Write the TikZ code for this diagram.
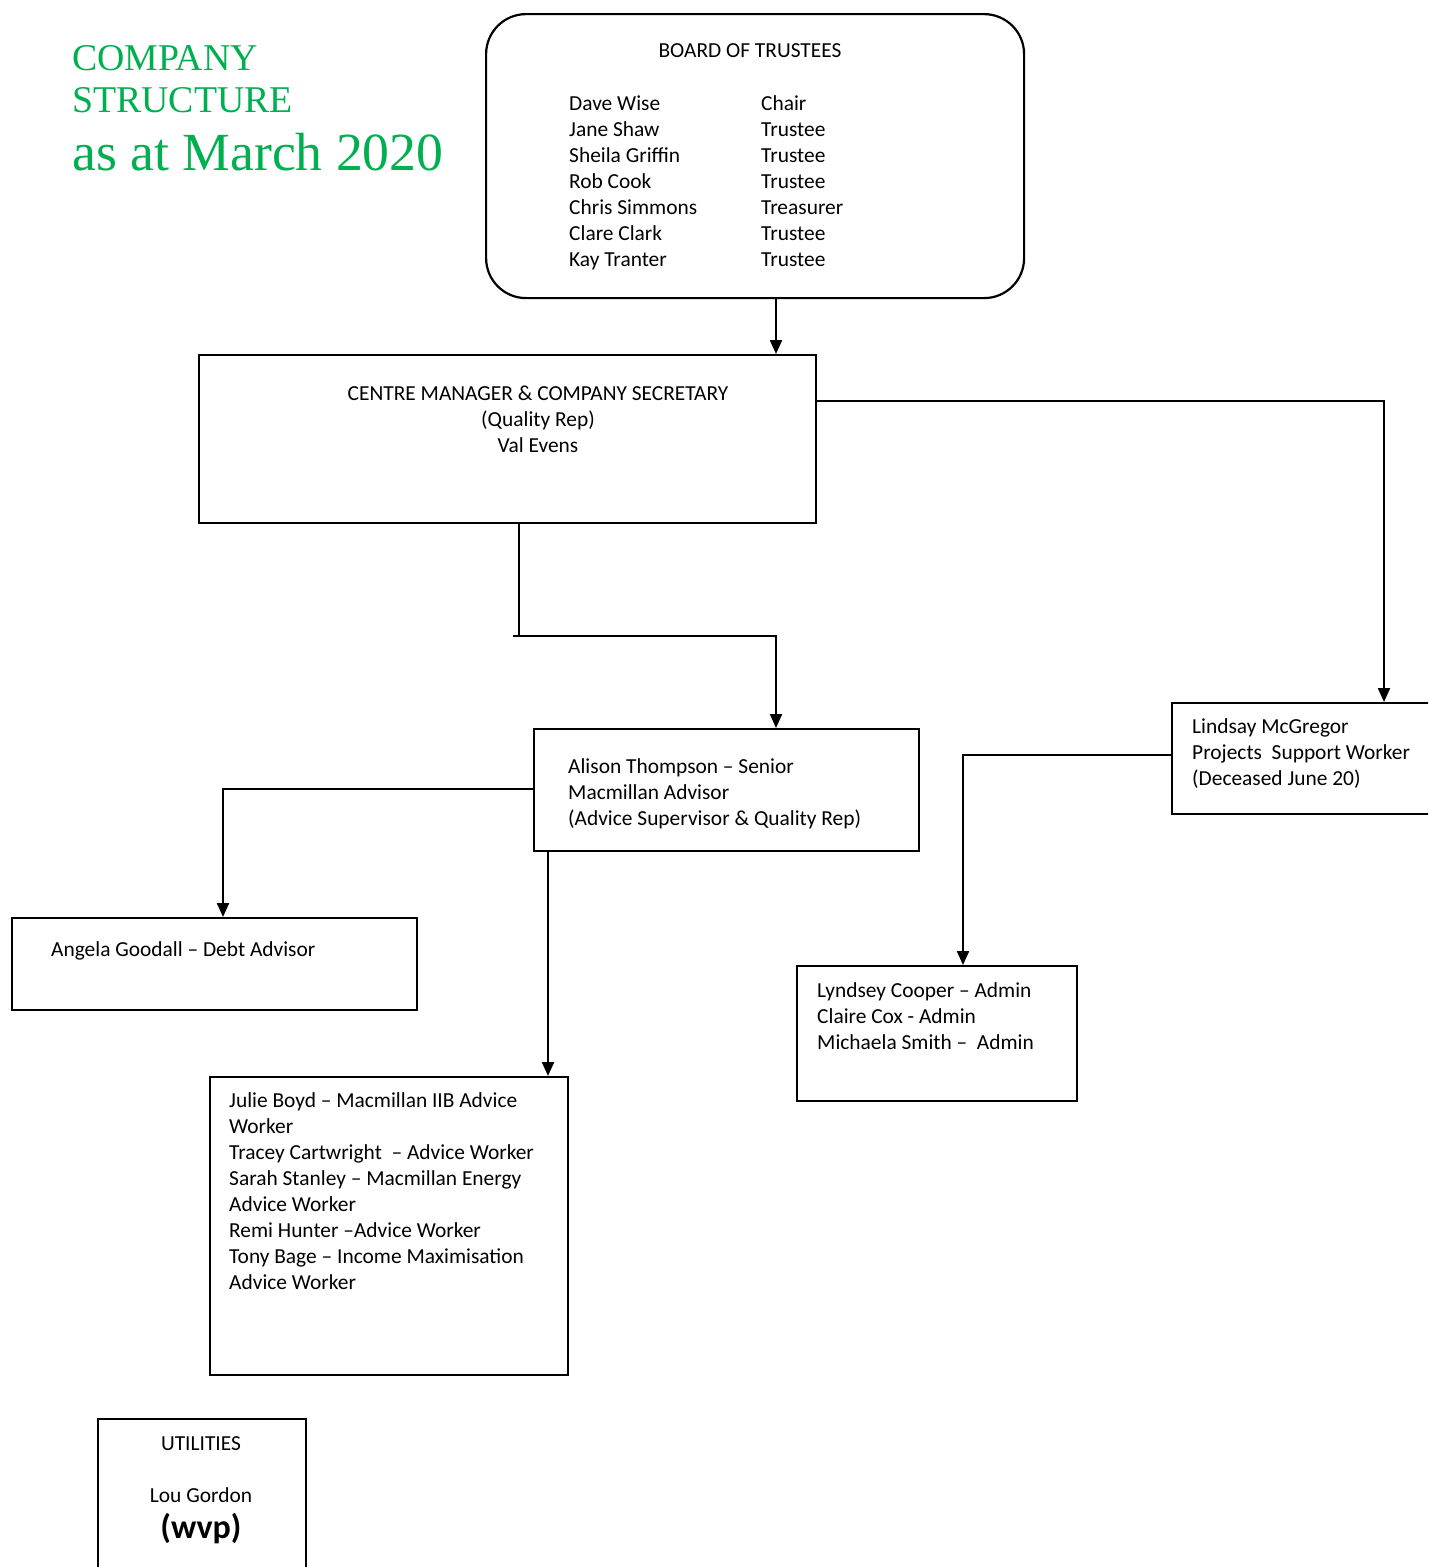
\documentclass[tikz,border=0pt]{standalone}
\usepackage{fontspec}
\setmainfont{Carlito}
\newfontfamily\titlefont{Liberation Serif}
\usetikzlibrary{arrows.meta}
\definecolor{wordgreen}{HTML}{00B050}
\newcommand{\tstr}{\rule{0pt}{18pt}}
\tikzset{
  box/.style={draw, line width=2.2pt, inner sep=0pt, anchor=north west},
  txt/.style={inner sep=0pt, anchor=north west, align=left, font=\fontsize{21.4}{26}\selectfont},
  ctxt/.style={inner sep=0pt, anchor=north, align=center, font=\fontsize{21.4}{26}\selectfont},
  ttl/.style={inner sep=0pt, anchor=base west, text=wordgreen},
  conn/.style={line width=2.2pt},
  arr/.style={line width=2.2pt, -{Triangle[length=14pt,width=12pt]}}
}
\begin{document}
\begin{tikzpicture}[x=1pt,y=-1pt]
\useasboundingbox (0,0) rectangle (1428,1567);
\clip (0,0) rectangle (1428,1567);
\fill[white] (0,0) rectangle (1428,1567);

% title
\node[ttl, font=\titlefont\fontsize{37.8}{42}\selectfont] (t1) at (72,70) {COMPANY};
\node[ttl, font=\titlefont\fontsize{37.8}{42}\selectfont] (t2) at (72,112) {STRUCTURE};
\node[ttl, font=\titlefont\fontsize{53.7}{60}\selectfont] (t3) at (72,170) {as at March 2020};

% boxes
\node[box, rounded corners=40pt, minimum width=538pt, minimum height=284pt] (board) at (485,13) {};
\node[box, minimum width=617pt, minimum height=168pt] (cm) at (198,354) {};
\node[box, minimum width=385pt, minimum height=122pt] (alison) at (533,728) {};
\node[box, minimum width=405pt, minimum height=92pt] (angela) at (11,917) {};
\node[box, minimum width=358pt, minimum height=298pt] (julie) at (209,1076) {};
\node[box, minimum width=280pt, minimum height=111pt] (lindsay) at (1171,702) {};
\node[box, minimum width=280pt, minimum height=135pt] (lyndsey) at (796,965) {};
\node[box, minimum width=208pt, minimum height=180pt] (util) at (97,1418) {};

% texts
\node[ctxt] (boardttl) at (750,39) {\tstr BOARD OF TRUSTEES};
\node[txt] (names) at (569,92) {\tstr Dave Wise\\Jane Shaw\\Sheila Griffin\\Rob Cook\\Chris Simmons\\Clare Clark\\Kay Tranter};
\node[txt] (roles) at (761,92) {\tstr Chair\\Trustee\\Trustee\\Trustee\\Treasurer\\Trustee\\Trustee};
\node[ctxt] (cmtxt) at (538,382) {\tstr CENTRE MANAGER \& COMPANY SECRETARY\\(Quality Rep)\\Val Evens};
\node[txt] (alitxt) at (568,755) {\tstr Alison Thompson -- Senior\\Macmillan Advisor\\(Advice Supervisor \& Quality Rep)};
\node[txt] (angtxt) at (51,938) {\tstr Angela Goodall -- Debt Advisor};
\node[txt] (jultxt) at (229,1089) {\tstr Julie Boyd -- Macmillan IIB Advice\\Worker\\Tracey Cartwright~ -- Advice Worker\\Sarah Stanley -- Macmillan Energy\\Advice Worker\\Remi Hunter --Advice Worker\\Tony Bage -- Income Maximisation\\Advice Worker};
\node[txt] (lintxt) at (1192,715) {\tstr Lindsay McGregor\\Projects~ Support Worker\\(Deceased June 20)};
\node[txt] (lyntxt) at (817,979) {\tstr Lyndsey Cooper -- Admin\\Claire Cox - Admin\\Michaela Smith --~ Admin};
\node[ctxt] (utiltxt) at (201,1432) {\tstr UTILITIES};
\node[ctxt] (lou) at (201,1484) {\tstr Lou Gordon};
\node[inner sep=0pt, anchor=base, font=\fontsize{34}{40}\selectfont\bfseries] (wvp) at (201,1538) {(wvp)};

% connector helper coordinates
\coordinate (a1) at (776,320);
\coordinate (c2) at (1384,401);
\coordinate (c3a) at (519,636);
\coordinate (c3b) at (776,636);
\coordinate (c4) at (223,789);
\coordinate (c5) at (548,960);
\coordinate (c6) at (963,755);

% connectors
\draw[arr] (board.south -| a1) -- (cm.north -| a1);
\draw[arr] (cm.east |- c2) -- (c2) -- (lindsay.north -| c2);
\draw[conn] (cm.south -| c3a) -- (c3a);
\draw[arr] ([xshift=-6pt]c3a) -- (c3b) -- (alison.north -| c3b);
\draw[arr] (alison.west |- c4) -- (c4) -- (angela.north -| c4);
\draw[arr] (alison.south -| c5) -- (julie.north -| c5);
\draw[arr] (lindsay.west |- c6) -- (c6) -- (lyndsey.north -| c6);
\end{tikzpicture}
\end{document}
